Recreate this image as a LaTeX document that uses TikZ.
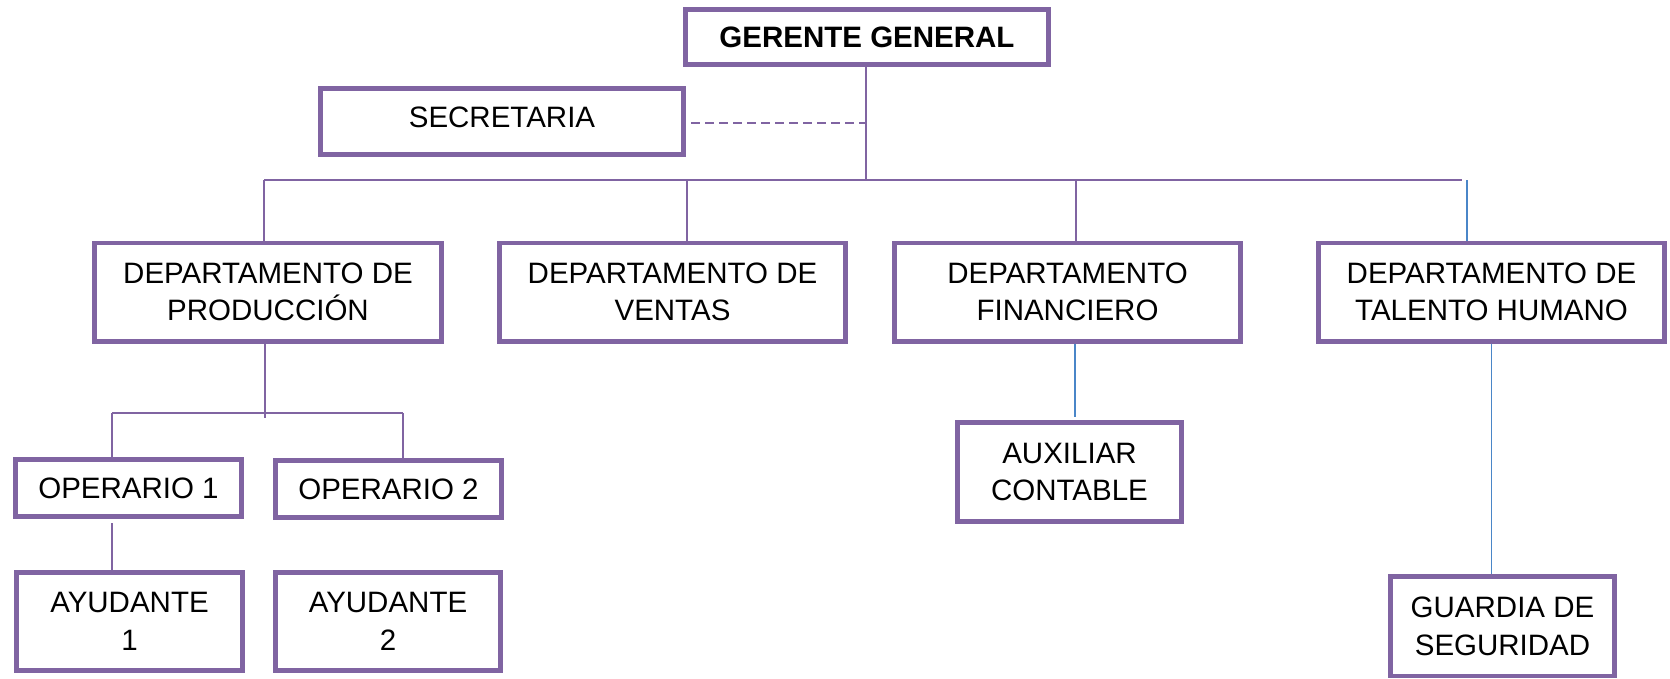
\documentclass[tikz,border=0pt]{standalone}
\usepackage{fontspec}
\setmainfont{Liberation Sans}
\definecolor{boxpurple}{HTML}{8064A2}
\definecolor{linepurple}{HTML}{8064A2}
\definecolor{lineblue}{HTML}{4A86C8}
\begin{document}
\begin{tikzpicture}[x=1pt,y=-1pt,
  box/.style={draw=boxpurple, line width=4.7pt, fill=white, align=center,
    inner sep=0pt, outer sep=auto, font=\fontsize{29.5}{37.5}\selectfont},
  conn/.style={draw=linepurple, line width=1.6pt},
  bconn/.style={draw=lineblue, line width=1.6pt},
  dashl/.style={draw=linepurple, line width=1.6pt, dash pattern=on 9pt off 5pt}]
\fill[white] (0,0) rectangle (1670,678);
\useasboundingbox (0,0) rectangle (1670,678);

% nodes
\node[box, minimum width=363.3pt, minimum height=55.3pt,
  font=\fontsize{29.5}{37.5}\selectfont\bfseries] (gg) at (867,37) {GERENTE GENERAL};
\node[box, minimum width=363.3pt, minimum height=66.3pt, text height=21pt, text depth=9pt] (sec) at (502,121.5) {SECRETARIA};
\node[box, minimum width=347.3pt, minimum height=98.3pt] (prod) at (268,292) {DEPARTAMENTO DE\\PRODUCCIÓN};
\node[box, minimum width=346.3pt, minimum height=98.3pt] (ven) at (672.5,292) {DEPARTAMENTO DE\\VENTAS};
\node[box, minimum width=346.3pt, minimum height=98.3pt] (fin) at (1067.5,292) {DEPARTAMENTO\\FINANCIERO};
\node[box, minimum width=346.3pt, minimum height=98.3pt] (tal) at (1491.5,292) {DEPARTAMENTO DE\\TALENTO HUMANO};
\node[box, minimum width=226.3pt, minimum height=57.3pt] (op1) at (128.5,488) {OPERARIO 1};
\node[box, minimum width=226.3pt, minimum height=57.3pt] (op2) at (388.5,489) {OPERARIO 2};
\node[box, minimum width=226.3pt, minimum height=98.3pt] (ay1) at (129.5,621.5) {AYUDANTE\\1};
\node[box, minimum width=225.3pt, minimum height=98.3pt] (ay2) at (388,621.5) {AYUDANTE\\2};
\node[box, minimum width=224.3pt, minimum height=99.3pt] (aux) at (1069.5,472) {AUXILIAR\\CONTABLE};
\node[box, minimum width=224.3pt, minimum height=99.7pt] (guard) at (1502.5,626.2) {GUARDIA DE\\SEGURIDAD};

% coordinates of the bus lines
\coordinate (bus) at (866,180);
\coordinate (busL) at (264,180);
\coordinate (busV) at (687,180);
\coordinate (busF) at (1076,180);
\coordinate (busR) at (1462,180);
\coordinate (busB) at (1467,180);
\coordinate (pbusL) at (112,413);
\coordinate (pbusR) at (403,413);

% connectors
\draw[conn] ([xshift=-1pt]gg.south) -- (bus);
\draw[conn] (busL) -- (busR);
\draw[conn] (busL) -- (busL |- prod.north);
\draw[conn] (busV) -- (busV |- ven.north);
\draw[conn] (busF) -- (busF |- fin.north);
\draw[bconn] (busB) -- (busB |- tal.north);
\draw[dashl] ([xshift=5pt,yshift=-1.5pt]sec.east) -- ([yshift=-1.5pt]sec.east -| bus);

\draw[conn] ([xshift=-3pt]prod.south) -- ++(0,74);
\draw[conn] (pbusL) -- (pbusR);
\draw[conn] (pbusL) -- (pbusL |- op1.north);
\draw[conn] (pbusR) -- (pbusR |- op2.north);
\draw[conn] ([yshift=-4pt]op1.south -| pbusL) -- (pbusL |- ay1.north);

\draw[bconn] ([xshift=7.5pt]fin.south) -- ++(0,73);
\draw[bconn] (tal.south) -- (tal.south |- guard.north);
\end{tikzpicture}
\end{document}
